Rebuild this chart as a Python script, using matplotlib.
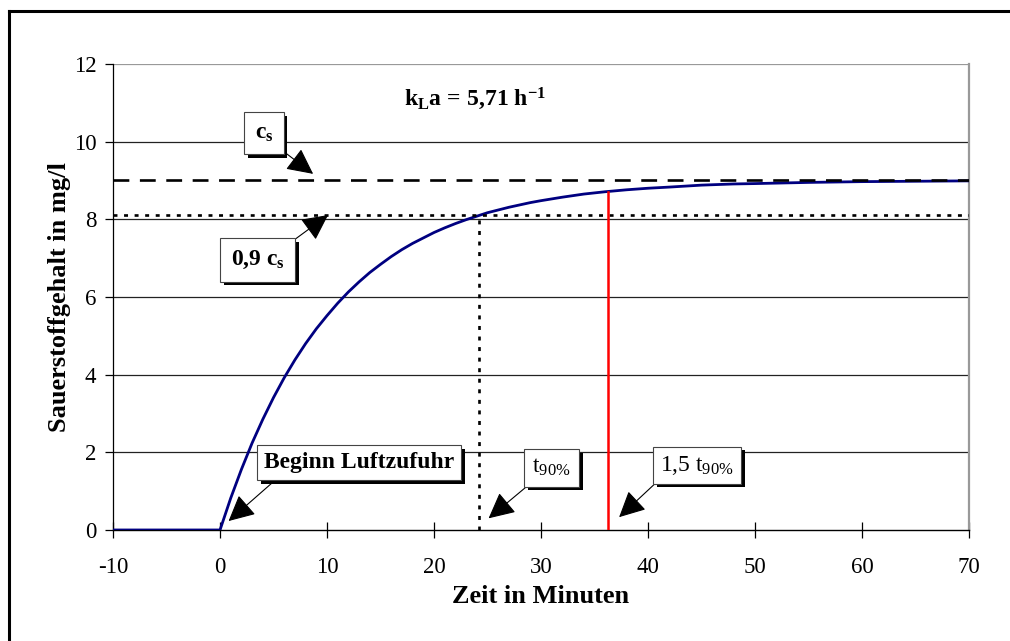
import matplotlib
matplotlib.use("Agg")
import matplotlib.pyplot as plt
import matplotlib.patheffects as pe
from matplotlib.lines import Line2D

plt.rcParams['font.family'] = ['Liberation Serif', 'DejaVu Serif']
plt.rcParams['mathtext.fontset'] = 'custom'
plt.rcParams['mathtext.rm'] = 'Liberation Serif'
plt.rcParams['mathtext.it'] = 'Liberation Serif:italic'
plt.rcParams['mathtext.bf'] = 'Liberation Serif:bold'
plt.rcParams['axes.unicode_minus'] = False

zeit = [-10, 0, 1, 2, 3, 4, 5, 6, 7, 8, 9, 10, 11, 12, 13, 14, 15, 16, 17, 18,
        19, 20, 21, 22, 23, 24, 25, 26, 27, 28, 29, 30, 32, 34, 36, 38, 40,
        42, 45, 48, 50, 55, 60, 65, 70]
sauerstoff = [0, 0, 0.82, 1.56, 2.24, 2.85, 3.41, 3.92, 4.38, 4.80, 5.18,
              5.52, 5.84, 6.13, 6.39, 6.63, 6.84, 7.04, 7.22, 7.38, 7.52,
              7.66, 7.78, 7.89, 7.99, 8.08, 8.17, 8.24, 8.31, 8.37, 8.43,
              8.48, 8.57, 8.65, 8.71, 8.76, 8.80, 8.83, 8.88, 8.91, 8.92,
              8.95, 8.97, 8.98, 8.99]

c_s = 9.0
c_90 = 8.1
t_90 = 24.2
t_150 = 36.3
c_at_t150 = 8.71

xticks = [-10, 0, 10, 20, 30, 40, 50, 60, 70]
yticks = [0, 2, 4, 6, 8, 10, 12]

fig = plt.figure(figsize=(10.1, 6.41), dpi=100)
ax = fig.add_axes([0.1119, 0.1732, 0.8475, 0.727])

# outer frame (top and left edges only)
fig.add_artist(Line2D([0.009, 1.0], [0.983, 0.983], transform=fig.transFigure,
                      color='black', lw=2.2))
fig.add_artist(Line2D([0.009, 0.009], [0.0, 0.983], transform=fig.transFigure,
                      color='black', lw=2.2))

ax.set_xlim(-10, 70)
ax.set_ylim(0, 12)
ax.set_xticks(xticks)
ax.set_yticks(yticks)
ax.tick_params(axis='x', direction='inout', length=11, width=0.9, labelsize=16.5, pad=14)
ax.tick_params(axis='y', direction='out', length=6, width=0.9, labelsize=16.5, pad=6)
for y in yticks[1:]:
    ax.axhline(y, color='#999999' if y == 12 else '#222222', lw=0.9, zorder=1)

ax.spines['top'].set_visible(False)
ax.spines['right'].set_color('#999999')
ax.spines['right'].set_linewidth(1.6)
ax.spines['left'].set_linewidth(0.9)
ax.spines['bottom'].set_linewidth(1.0)

ax.plot(zeit, sauerstoff, color='#000080', lw=2.0, zorder=3)
ax.axhline(c_s, color='black', lw=1.9, dashes=(6, 4), zorder=4)
ax.axhline(c_90, color='black', lw=1.9, dashes=(1.5, 2.5), zorder=4)
ax.plot([t_90, t_90], [0, c_90], color='black', lw=1.9, dashes=(1.5, 2.5), zorder=4)
ax.plot([t_150, t_150], [0, c_at_t150], color='#ff0000', lw=1.8, zorder=4)

ax.set_xlabel('Zeit in Minuten', fontsize=19, fontweight='bold')
ax.set_ylabel('Sauerstoffgehalt in mg/l', fontsize=19, fontweight='bold')
ax.xaxis.set_label_coords(0.5, -0.118)
ax.yaxis.set_label_coords(-0.049, 0.5)

ax.text(17.2, 11.1, r'$\mathbf{k_{L}a\,=\,5{,}71\ h^{-1}}$', fontsize=17,
        ha='left', va='center')


def callout(label, xy_text, xy_tip, relpos, bold=True, size=17, pad=0.3):
    # white box with a hard black drop shadow and an arrow to the point
    ann = ax.annotate(label, xy=xy_tip, xytext=xy_text, fontsize=size,
                      fontweight='bold' if bold else 'normal',
                      ha='center', va='center', zorder=6,
                      bbox=dict(boxstyle='square,pad=%.2f' % pad, fc='white',
                                ec='#444444', lw=0.8),
                      arrowprops=dict(arrowstyle='-|>,head_length=0.9,head_width=0.45',
                                      color='black', lw=0.8, mutation_scale=18,
                                      relpos=relpos, shrinkA=0, shrinkB=0))
    ann.get_bbox_patch().set_path_effects([
        pe.SimplePatchShadow(offset=(2.6, -2.6), shadow_rgbFace='black', alpha=1.0),
        pe.Normal()])
    return ann


callout(r'$\mathbf{c_s}$', (4.1, 10.22), (8.7, 9.17), (1.0, 0.0), pad=0.45)
callout(r'$\mathbf{0{,}9\ c_s}$', (3.5, 6.95), (10.1, 8.11), (0.95, 1.0), pad=0.45)
callout('Beginn Luftzufuhr', (13.0, 1.73), (0.8, 0.23), (0.1, 0.0))
callout(r'$\mathrm{t}_{\mathrm{90\%}}$', (31.0, 1.6), (25.1, 0.3), (0.1, 0.0), bold=False, pad=0.35)
callout(r'$\mathrm{1{,}5\ t}_{\mathrm{90\%}}$', (44.6, 1.67), (37.3, 0.33), (0.03, 0.0), bold=False)

fig.savefig('out.png', dpi=100)
